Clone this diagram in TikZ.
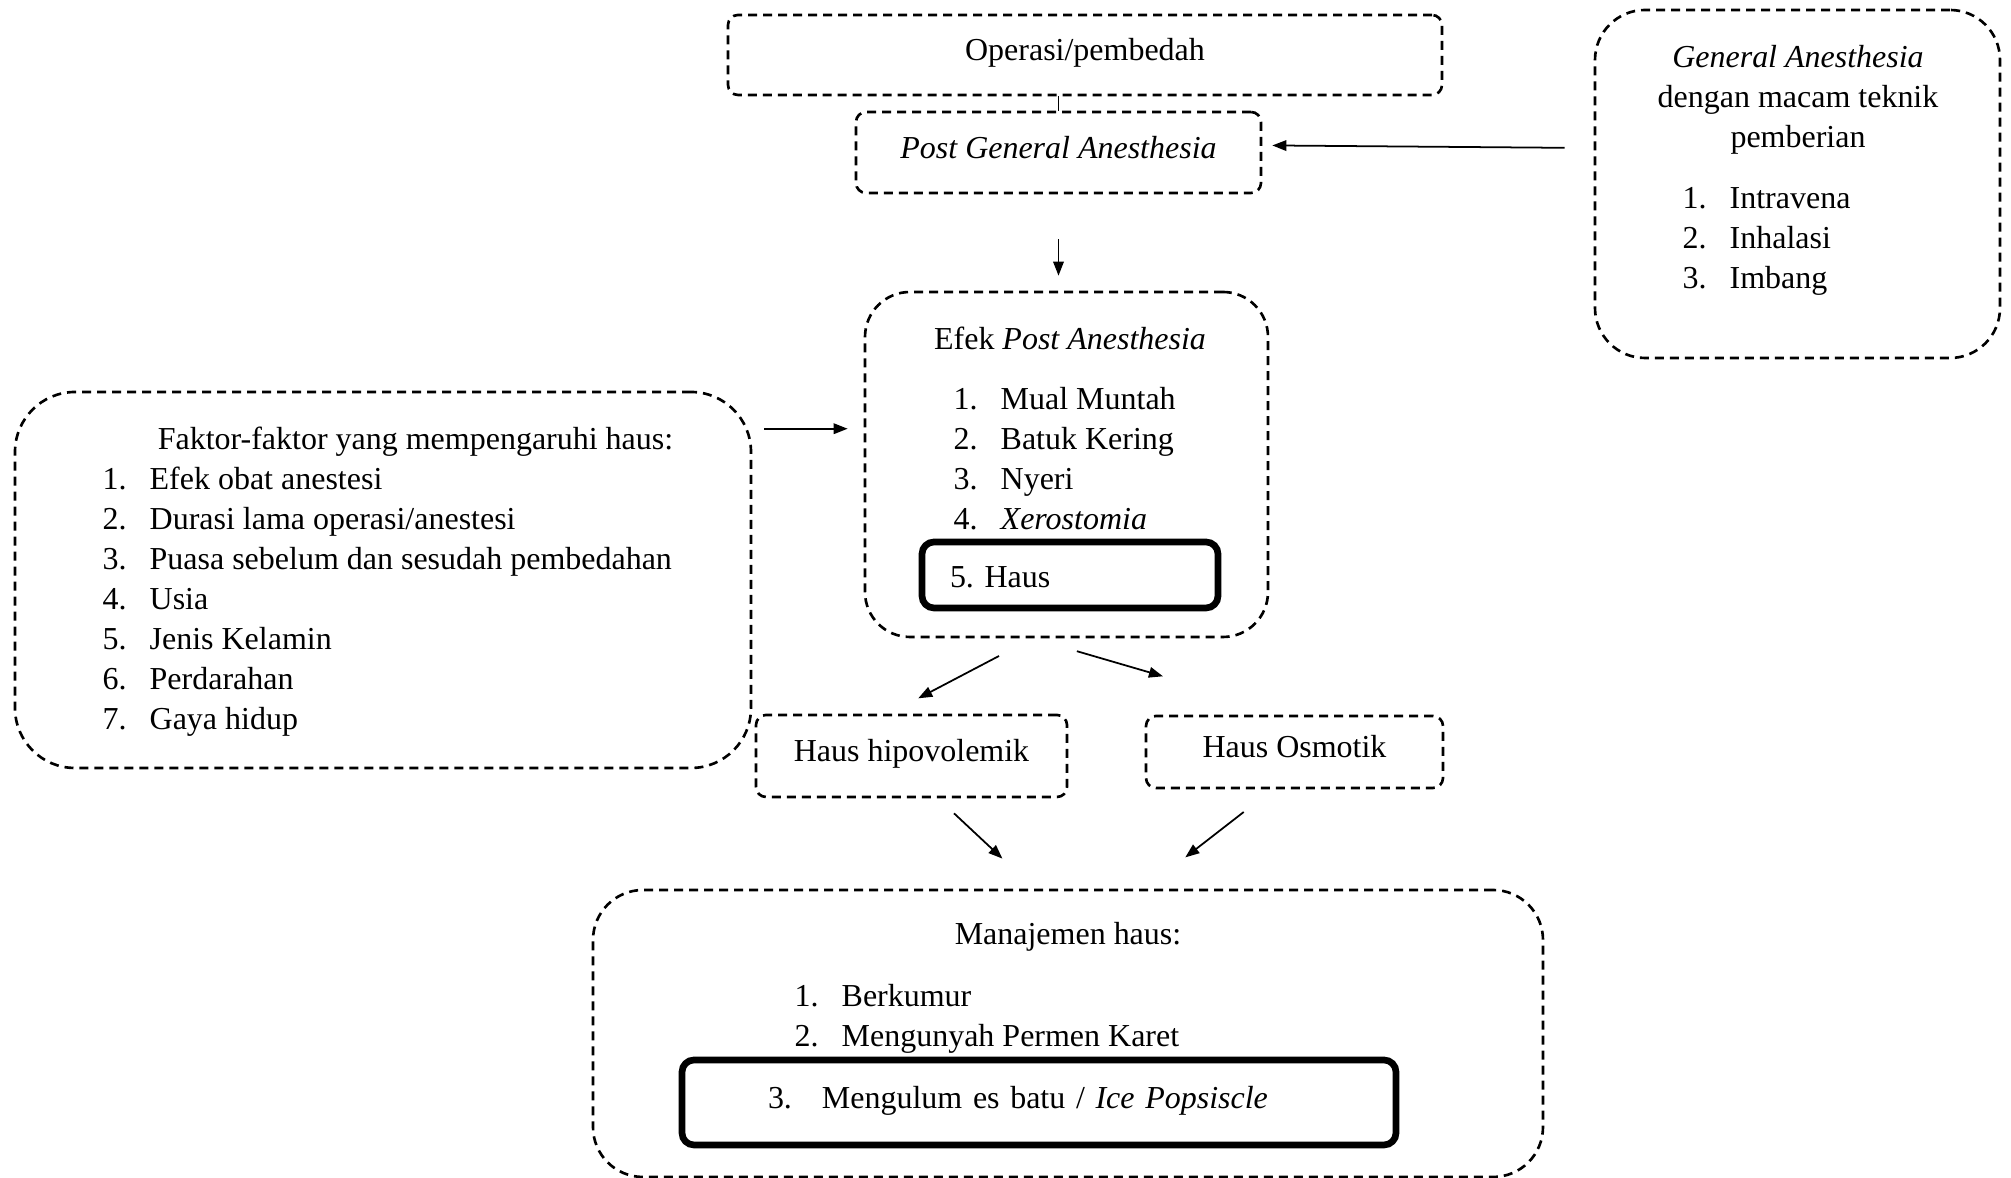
\documentclass[tikz,border=0pt]{standalone}
\usepackage{fontspec}
\setmainfont{Liberation Serif}
\usetikzlibrary{arrows.meta}
\frenchspacing
\newcommand{\nomor}[2][0.47cm]{\strut\makebox[#1][l]{#2}}

\begin{document}
\begin{tikzpicture}[
    >={Triangle[length=4pt,width=3pt]},
    font=\fontsize{9.1}{11.38}\selectfont,
    kotak/.style={
        draw,
        line width=0.75pt,
        dash pattern=on 0.09cm off 0.06cm,
        rounded corners=0.1cm,
        text height=0.22cm,
        text depth=0.10cm,
        align=center
    },
    wadah/.style={
        draw,
        line width=0.75pt,
        dash pattern=on 0.09cm off 0.06cm,
        rounded corners=#1
    },
    wadah/.default=0.5cm,
    tegas/.style={
        draw,
        line width=1.9pt,
        rounded corners=0.12cm,
        align=left
    },
    judul/.style={
        inner sep=0pt,
        align=center
    },
    daftar/.style={
        inner sep=0pt,
        align=left,
        anchor=west
    },
    panah/.style={
        ->,
        line width=0.5pt
    }
]
    \useasboundingbox (0,0) rectangle (20.11,11.78);

    \node[kotak, minimum width=7.14cm, minimum height=0.80cm] (operasi) at (10.85,11.23)
        {Operasi/pembedah};
    \node[kotak, minimum width=4.05cm, minimum height=0.81cm] (pga) at (10.585,10.255)
        {\textit{Post General Anesthesia}};

    \node[wadah, minimum width=4.05cm, minimum height=3.48cm] (ga) at (17.975,9.94) {};
    \node[judul] (ga-judul) at (17.98,10.785)
        {\strut\textit{General Anesthesia}\\
         \strut dengan macam teknik\\
         \strut pemberian};
    \node[daftar] (ga-daftar) at (16.82,9.375)
        {\nomor{1.}Intravena\\
         \nomor{2.}Inhalasi\\
         \nomor{3.}Imbang};

    \node[wadah=0.45cm, minimum width=4.03cm, minimum height=3.45cm] (efek) at (10.665,7.135) {};
    \node[judul, anchor=base] (efek-judul) at (10.70,8.28)
        {Efek \textit{Post Anesthesia}};
    \node[daftar] (efek-daftar) at (9.53,7.16)
        {\nomor{1.}Mual Muntah\\
         \nomor{2.}Batuk Kering\\
         \nomor{3.}Nyeri\\
         \nomor{4.}\textit{Xerostomia}};
    \node[tegas, minimum width=2.96cm, minimum height=0.66cm, text width=2.40cm,
        inner xsep=0.28cm, text height=0.26cm, text depth=0cm] (haus) at (10.70,6.03)
        {5. Haus};

    \node[wadah=0.6cm, minimum width=7.36cm, minimum height=3.76cm] (faktor) at (3.83,5.98) {};
    \node[judul, anchor=base] (faktor-judul) at (4.155,7.28)
        {Faktor-faktor yang mempengaruhi haus:};
    \node[daftar] (faktor-daftar) at (1.02,5.76)
        {\nomor{1.}Efek obat anestesi\\
         \nomor{2.}Durasi lama operasi/anestesi\\
         \nomor{3.}Puasa sebelum dan sesudah pembedahan\\
         \nomor{4.}Usia\\
         \nomor{5.}Jenis Kelamin\\
         \nomor{6.}Perdarahan\\
         \nomor{7.}Gaya hidup};

    \node[kotak, minimum width=3.11cm, minimum height=0.82cm] (hipovolemik) at (9.115,4.22)
        {Haus hipovolemik};
    \node[kotak, minimum width=2.97cm, minimum height=0.72cm] (osmotik) at (12.945,4.26)
        {Haus Osmotik};

    \node[wadah, minimum width=9.50cm, minimum height=2.87cm] (manajemen) at (10.68,1.445) {};
    \node[judul, anchor=base] (manajemen-judul) at (10.68,2.33)
        {Manajemen haus:};
    \node[daftar] (manajemen-daftar) at (7.94,1.59)
        {\nomor{1.}Berkumur\\
         \nomor{2.}Mengunyah Permen Karet};
    \node[tegas, minimum width=7.14cm, minimum height=0.85cm, text width=5.42cm,
        inner xsep=0.86cm, text height=0.22cm, text depth=0.10cm] (popsicle) at (10.39,0.755)
        {\makebox[0.54cm][l]{3.}Mengulum es batu / \textit{Ice Popsiscle}};

    \draw[line width=0.5pt] (pga.north |- operasi.south) -- (pga.north);
    \draw[panah, shorten <=0.45cm, shorten >=0.15cm] (pga.south) -- (pga.south |- efek.north);
    \draw[panah, shorten <=0.29cm, shorten >=0.10cm] (ga.170) -- (pga.2);
    \draw[panah, shorten <=0.12cm, shorten >=0.16cm] (faktor.east |- efek.170) -- (efek.170);
    \draw[panah, shorten <=0.38cm, shorten >=0.33cm] (efek.259) -- (hipovolemik.118);
    \draw[panah, shorten <=0.46cm, shorten >=1.37cm] (efek.259) -- (osmotik.north);
    \draw[panah, shorten <=0.22cm, shorten >=0.44cm] (hipovolemik.302) -- (manajemen.103);
    \draw[panah, shorten <=0.37cm, shorten >=0.51cm] (osmotik.240) -- (manajemen.62);
\end{tikzpicture}
\end{document}
